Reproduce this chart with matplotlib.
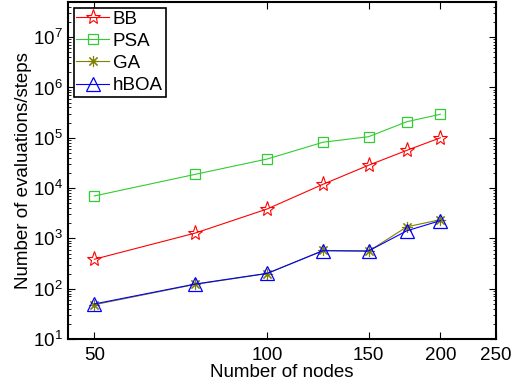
import matplotlib
matplotlib.use("Agg")
import matplotlib.pyplot as plt
from matplotlib.ticker import FixedLocator, FixedFormatter, LogFormatterSciNotation, NullFormatter, NullLocator

plt.rcParams['font.family'] = ['Liberation Sans', 'DejaVu Sans']
plt.rcParams['mathtext.fontset'] = 'custom'
plt.rcParams['mathtext.rm'] = 'Liberation Sans'

nodes = [50, 75, 100, 125, 150, 175, 200]
bb = [385, 1280, 3850, 11900, 28400, 56400, 100000]
psa = [6970, 18800, 37900, 81500, 105000, 209000, 293000]
ga = [48, 122, 200, 575, 555, 1700, 2350]
hboa = [49.7, 124, 202, 569, 562, 1420, 2250]
xticks = [50, 100, 150, 200, 250]
yticks = [1e1, 1e2, 1e3, 1e4, 1e5, 1e6, 1e7]

FS = 13.5

fig = plt.figure(figsize=(5.19, 3.87), dpi=100)
ax = fig.add_axes([68/519, 1-339/387, 428/519, 337/387])

ax.plot(nodes, bb, color='red', lw=0.8, marker='*', ms=11, mfc='none', mew=0.8, label='BB')
ax.plot(nodes, psa, color='#33cc33', lw=0.8, marker='s', ms=7, mfc='none', mew=0.9, label='PSA')
ax.plot(nodes, ga, color='#808000', lw=0.8, marker=(8, 2, 0), ms=8, mew=0.8, label='GA')
ax.plot(nodes, hboa, color='blue', lw=0.8, marker='^', ms=10, mfc='none', mew=0.9, label='hBOA')

ax.set_xscale('log')
ax.set_yscale('log')
ax.set_xlim(45, 250)
ax.set_ylim(10, 5e7)
ax.xaxis.set_major_locator(FixedLocator(xticks))
ax.xaxis.set_major_formatter(FixedFormatter([str(t) for t in xticks]))
ax.xaxis.set_minor_locator(NullLocator())
ax.xaxis.set_minor_formatter(NullFormatter())
ax.yaxis.set_major_locator(FixedLocator(yticks))
ax.yaxis.set_major_formatter(LogFormatterSciNotation())
minor = [m * d for d in yticks for m in range(2, 10) if m * d <= 5e7]
ax.yaxis.set_minor_locator(FixedLocator(minor))
ax.yaxis.set_minor_formatter(NullFormatter())

ax.tick_params(which='both', direction='in', top=True, right=True, labelsize=FS)
ax.tick_params(which='major', length=5, width=0.8)
ax.tick_params(axis='x', which='major', pad=6)
ax.tick_params(which='minor', length=2.5, width=0.6)
for s in ax.spines.values():
    s.set_linewidth(1.5)

ax.set_xlabel('Number of nodes', fontsize=FS, labelpad=0)
ax.set_ylabel('Number of evaluations/steps', fontsize=FS, labelpad=1)

leg = ax.legend(loc='upper left', fontsize=FS, fancybox=False, framealpha=1,
                edgecolor='black', borderpad=0.15, labelspacing=0.27, handlelength=1.75,
                handletextpad=0.2, borderaxespad=0.3)
leg.get_frame().set_linewidth(1.2)

fig.savefig('out.png', dpi=100)
